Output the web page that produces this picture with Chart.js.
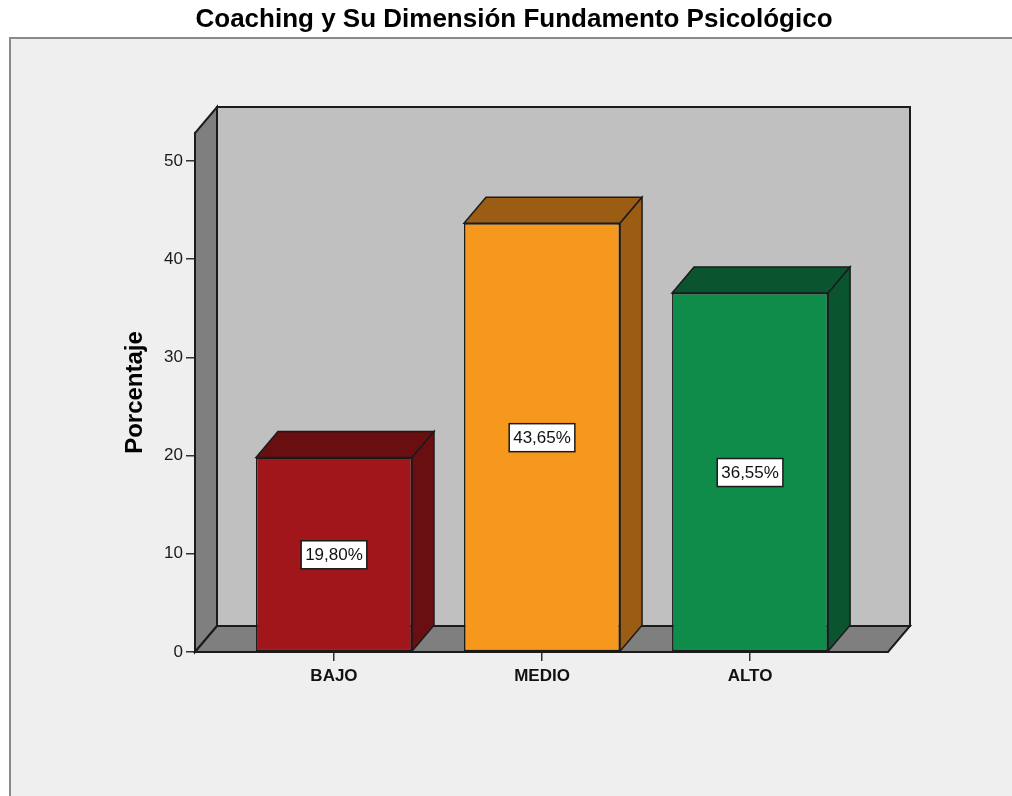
<!DOCTYPE html>
<html lang="es">
<head>
<meta charset="utf-8">
<title>Coaching y Su Dimensión Fundamento Psicológico</title>
<script src="https://cdn.jsdelivr.net/npm/chart.js@4.4.1/dist/chart.umd.min.js"></script>
<style>
  html, body { margin: 0; padding: 0; background: #ffffff; }
  canvas { display: block; }
</style>
</head>
<body>
<canvas id="chart" width="1012" height="796"></canvas>
<script>
// Niveles de la dimensión y su porcentaje
const categories = ['BAJO', 'MEDIO', 'ALTO'];
const percentages = [19.80, 43.65, 36.55];
const yTickValues = [0, 10, 20, 30, 40, 50];

// Colores: cara frontal y caras laterales/superiores de cada barra
const frontColors = ['#a0161b', '#f7981e', '#0f8b4a'];
const shadeColors = ['#690f12', '#9a5d13', '#0a5530'];

const FONT = '"Liberation Sans", Arial, Helvetica, sans-serif';
const EDGE = '#1b1b1b';
const DEPTH_X = 22;   // desplazamiento de profundidad en píxeles
const DEPTH_Y = 26;

function poly(ctx, pts, fill, lw) {
  ctx.beginPath();
  ctx.moveTo(pts[0][0], pts[0][1]);
  for (let i = 1; i < pts.length; i++) ctx.lineTo(pts[i][0], pts[i][1]);
  ctx.closePath();
  ctx.fillStyle = fill;
  ctx.fill();
  ctx.lineWidth = lw;
  ctx.strokeStyle = EDGE;
  ctx.lineJoin = 'miter';
  ctx.stroke();
}

// Fondo del lienzo y marco gris claro
const framePlugin = {
  id: 'frame',
  beforeDraw(chart) {
    const ctx = chart.ctx;
    ctx.save();
    ctx.fillStyle = '#ffffff';
    ctx.fillRect(0, 0, chart.width, chart.height);
    ctx.fillStyle = '#efefef';
    ctx.fillRect(10, 38, chart.width - 10, chart.height - 38);
    ctx.strokeStyle = '#8a8a8a';
    ctx.lineWidth = 2;
    ctx.beginPath();
    ctx.moveTo(10, chart.height);
    ctx.lineTo(10, 38);
    ctx.lineTo(chart.width, 38);
    ctx.stroke();
    ctx.restore();
  }
};

// Paredes y suelo en perspectiva, caras 3D de las barras y etiquetas
const wallsPlugin = {
  id: 'walls',
  beforeDatasetsDraw(chart) {
    const ctx = chart.ctx;
    const xs = chart.scales.x, ys = chart.scales.y;
    const x0 = xs.getPixelForValue(xs.min);
    const x1 = xs.getPixelForValue(xs.max);
    const y0 = ys.getPixelForValue(0);
    const yt = ys.getPixelForValue(ys.max);
    ctx.save();
    // pared del fondo
    poly(ctx, [[x0 + DEPTH_X, yt - DEPTH_Y], [x1 + DEPTH_X, yt - DEPTH_Y],
               [x1 + DEPTH_X, y0 - DEPTH_Y], [x0 + DEPTH_X, y0 - DEPTH_Y]], '#c0c0c0', 2);
    // pared izquierda
    poly(ctx, [[x0, y0], [x0, yt], [x0 + DEPTH_X, yt - DEPTH_Y], [x0 + DEPTH_X, y0 - DEPTH_Y]], '#7f7f7f', 2);
    // suelo
    poly(ctx, [[x0, y0], [x1, y0], [x1 + DEPTH_X, y0 - DEPTH_Y], [x0 + DEPTH_X, y0 - DEPTH_Y]], '#7f7f7f', 2);
    ctx.restore();
  },
  afterDatasetsDraw(chart) {
    const ctx = chart.ctx;
    const ys = chart.scales.y;
    const meta = chart.getDatasetMeta(0);
    ctx.save();
    meta.data.forEach((bar, i) => {
      const p = bar.getProps(['x', 'y', 'base', 'width'], true);
      const l = p.x - p.width / 2, r = p.x + p.width / 2;
      // cara superior
      poly(ctx, [[l, p.y], [r, p.y], [r + DEPTH_X, p.y - DEPTH_Y], [l + DEPTH_X, p.y - DEPTH_Y]], shadeColors[i], 1.5);
      // cara lateral
      poly(ctx, [[r, p.y], [r + DEPTH_X, p.y - DEPTH_Y], [r + DEPTH_X, p.base - DEPTH_Y], [r, p.base]], shadeColors[i], 1.5);
    });
    // etiquetas de valor
    ctx.font = '17px ' + FONT;
    ctx.textAlign = 'center';
    ctx.textBaseline = 'middle';
    meta.data.forEach((bar, i) => {
      const v = percentages[i];
      const text = v.toFixed(2).replace('.', ',') + '%';
      const cx = bar.x;
      const cy = ys.getPixelForValue(v / 2);
      const w = ctx.measureText(text).width + 8;
      const h = 28;
      ctx.fillStyle = '#ffffff';
      ctx.fillRect(cx - w / 2, cy - h / 2, w, h);
      ctx.strokeStyle = EDGE;
      ctx.lineWidth = 1.5;
      ctx.strokeRect(cx - w / 2, cy - h / 2, w, h);
      ctx.fillStyle = '#111111';
      ctx.fillText(text, cx, cy + 1);
    });
    ctx.restore();
  }
};

new Chart(document.getElementById('chart'), {
  type: 'bar',
  data: {
    datasets: [{
      data: percentages.map((v, i) => ({ x: i, y: v })),
      backgroundColor: frontColors,
      borderColor: EDGE,
      borderWidth: 1.5,
      borderSkipped: false,
      barPercentage: 0.75,
      categoryPercentage: 1
    }]
  },
  options: {
    responsive: false,
    animation: false,
    events: [],
    layout: { padding: { left: 16, right: 0, top: 0, bottom: 84 } },
    plugins: {
      legend: { display: false },
      tooltip: { enabled: false },
      title: {
        display: true,
        text: 'Coaching y Su Dimensión Fundamento Psicológico',
        color: '#000000',
        font: { family: FONT, size: 26, weight: 'bold' },
        padding: { top: 4, bottom: 97.8 }
      }
    },
    scales: {
      x: {
        type: 'linear',
        min: -0.668,
        max: 2.663,
        offset: false,
        afterBuildTicks(scale) { scale.ticks = categories.map((_, i) => ({ value: i })); },
        afterFit(scale) { scale.height = 60; },
        ticks: {
          callback: (v) => categories[v],
          color: '#111111',
          font: { family: FONT, size: 17, weight: 'bold' },
          padding: 5,
          maxRotation: 0,
          autoSkip: false
        },
        grid: { display: true, drawOnChartArea: false, drawTicks: true, tickLength: 9, offset: false, color: '#333333', lineWidth: 1.5 },
        border: { display: true, color: EDGE, width: 2 }
      },
      y: {
        min: 0,
        max: 52.85,
        afterBuildTicks(scale) { scale.ticks = yTickValues.map(v => ({ value: v })); },
        afterFit(scale) { scale.width = 179; },
        ticks: {
          color: '#1a1a1a',
          font: { family: FONT, size: 17 },
          padding: 3
        },
        grid: { display: true, drawOnChartArea: false, drawTicks: true, tickLength: 9, color: '#333333', lineWidth: 1.5 },
        border: { display: true, color: EDGE, width: 2 },
        title: {
          display: true,
          text: 'Porcentaje',
          color: '#000000',
          font: { family: FONT, size: 24, weight: 'bold' },
          padding: { top: 104.6, bottom: 0 }
        }
      },
      // eje derecho vacío que reserva el margen a la derecha del área de trazado
      yRight: {
        position: 'right',
        display: true,
        afterFit(scale) { scale.width = 124; },
        ticks: { display: false },
        grid: { display: false },
        border: { display: false }
      }
    }
  },
  plugins: [framePlugin, wallsPlugin]
});
</script>
</body>
</html>
